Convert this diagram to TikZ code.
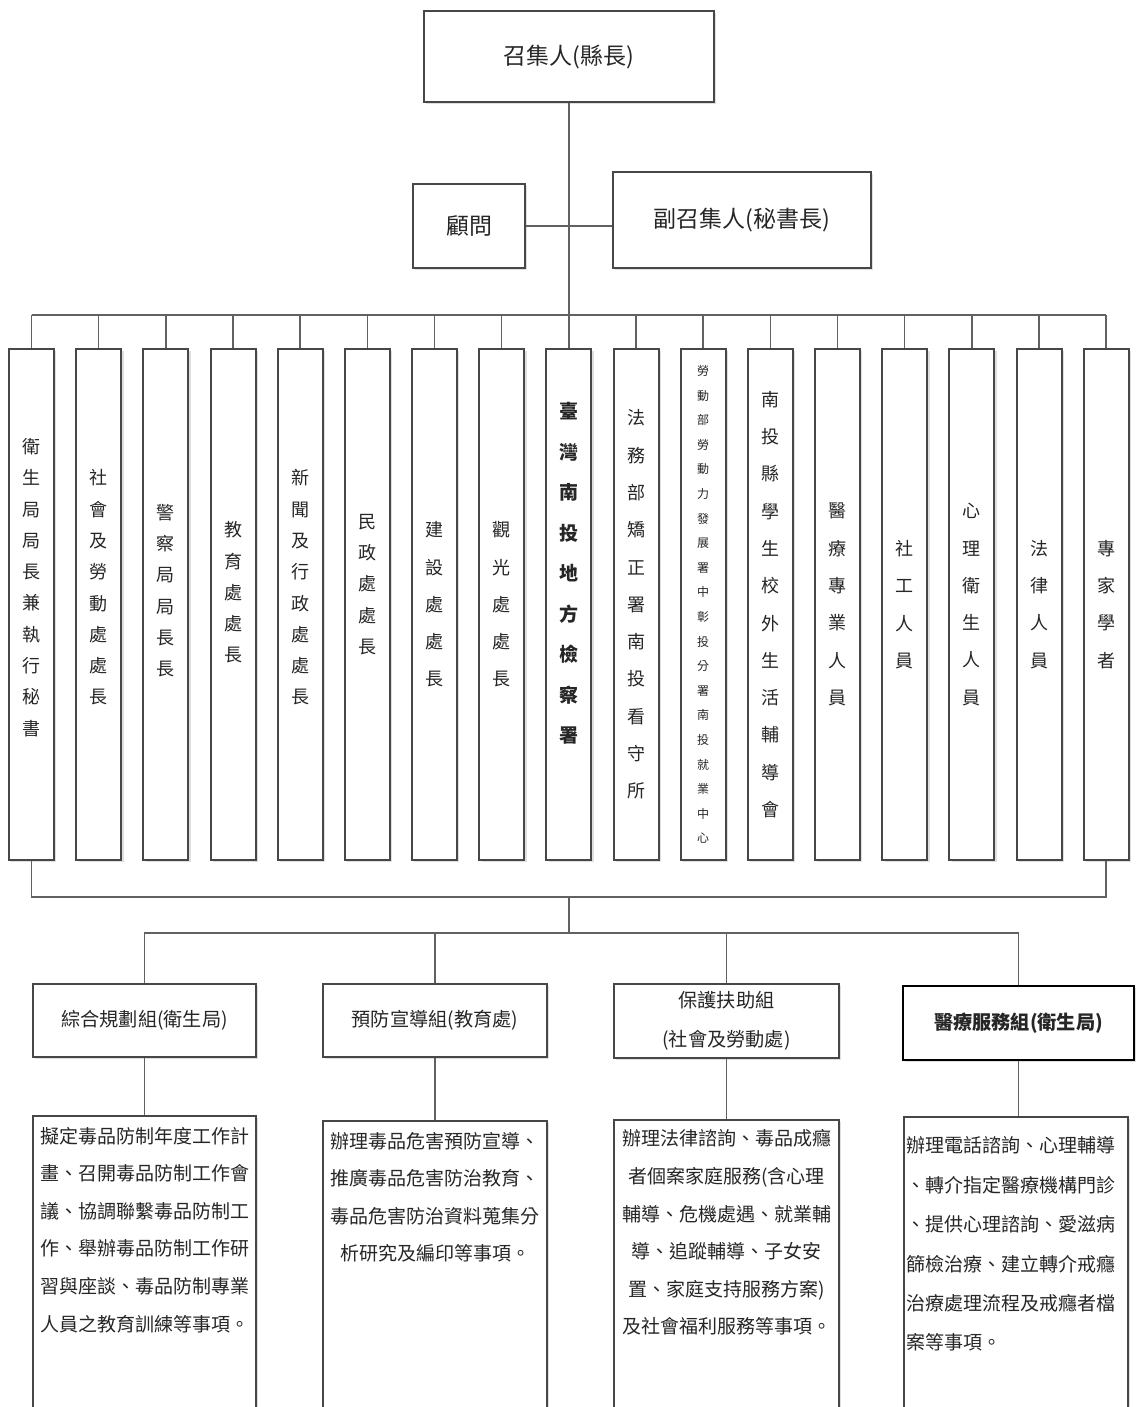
\documentclass[tikz,border=0pt]{standalone}
\usepackage{fontspec}
\setmainfont{Noto Sans CJK TC}
\usetikzlibrary{positioning,shadows}
\XeTeXlinebreaklocale "zh"
\XeTeXlinebreakskip=0pt plus 1pt
\colorlet{framegray}{black!72}
\colorlet{linkgray}{black!62}
\colorlet{inkgray}{black!85}
\tikzset{
    boxsty/.style={draw=framegray, line width=1pt, fill=white, rectangle, inner sep=0pt, text=inkgray,
                   drop shadow={shadow xshift=1.2pt, shadow yshift=-1.2pt, opacity=0.25}},
    headsty/.style={boxsty, font=\fontsize{11.5}{14}\selectfont},
    colsty/.style={boxsty, minimum width=22.5pt, minimum height=255.5pt},
    vtxtsty/.style={text width=12pt, align=center, inner sep=0pt, text=inkgray},
    vasty/.style={vtxtsty, font=\fontsize{9}{15.65}\selectfont},
    vbsty/.style={vtxtsty, font=\fontsize{9}{18.65}\selectfont},
    vboldsty/.style={vtxtsty, font=\fontsize{9.5}{20.25}\selectfont\bfseries},
    vtinysty/.style={vtxtsty, text width=8pt, font=\fontsize{6}{12.3}\selectfont},
    grpsty/.style={boxsty, minimum width=111.5pt, minimum height=36.5pt, align=center,
                   font=\fontsize{9.6}{19.5}\selectfont},
    descsty/.style={boxsty, minimum width=111.5pt, minimum height=157pt},
    dtxtsty/.style={inner sep=0pt, text=inkgray, font=\fontsize{9.5}{18.8}\selectfont},
    linksty/.style={draw=linkgray, line width=0.75pt},
}

\begin{document}
\begin{tikzpicture}[x=0.5pt,y=-0.5pt]
  \useasboundingbox (0,0) rectangle (1137,1407);

  % convener, adviser and deputy
  \node[headsty, minimum width=145pt, minimum height=45.5pt] (chief) at (569,56.5) {召集人(縣長)};
  \node[headsty, minimum width=56pt, minimum height=42pt] (adv) at (469,226) {顧問};
  \node[headsty, minimum width=129pt, minimum height=48pt] (vice) at (742,220) {副召集人(秘書長)};

  % members
  \foreach \i in {1,...,17}
    \node[colsty] (c\i) at ({31.5+67.17*(\i-1)},604.5) {};

  \node[vasty] (v1) at ([yshift=8.5pt]c1.center) {衛生局局長兼執行秘書};
  \node[vasty] (v2) at ([yshift=8.5pt]c2.center) {社會及勞動處處長};
  \node[vasty] (v3) at ([yshift=7pt]c3.center) {警察局局長長};
  \node[vasty] (v4) at ([yshift=6pt]c4.center) {教育處處長};
  \node[vasty] (v5) at ([yshift=8.5pt]c5.center) {新聞及行政處處長};
  \node[vasty] (v6) at ([yshift=10pt]c6.center) {民政處處長};
  \node[vbsty] (v7) at (c7.center) {建設處處長};
  \node[vbsty] (v8) at (c8.center) {觀光處處長};
  \node[vboldsty] (v9) at ([yshift=15.5pt]c9.center) {臺灣南投地方檢察署};
  \node[vbsty] (v10) at (c10.center) {法務部矯正署南投看守所};
  \node[vtinysty] (v11) at (c11.center) {勞動部勞動力發展署中彰投分署南投就業中心};
  \node[vbsty] (v12) at (c12.center) {南投縣學生校外生活輔導會};
  \node[vbsty] (v13) at (c13.center) {醫療專業人員};
  \node[vbsty] (v14) at (c14.center) {社工人員};
  \node[vbsty] (v15) at (c15.center) {心理衛生人員};
  \node[vbsty] (v16) at (c16.center) {法律人員};
  \node[vbsty] (v17) at (c17.center) {專家學者};

  % task groups
  \node[grpsty] (g1) at (144.5,1020.5) {綜合規劃組(衛生局)};
  \node[grpsty, minimum width=112pt] (g2) at (435,1020.5) {預防宣導組(教育處)};
  \node[grpsty, minimum width=112.5pt, minimum height=37pt] (g3) at (726.5,1021) {保護扶助組\\(社會及勞動處)};
  \node[grpsty, minimum width=115.5pt, minimum height=37pt, draw=black, line width=1.3pt,
        font=\fontsize{9.6}{12}\selectfont\bfseries] (g4) at (1018.5,1023) {醫療服務組(衛生局)};

  \node[descsty] (d1) at (144.5,1273) {};
  \node[descsty, minimum width=112pt] (d2) at (435,1278) {};
  \node[descsty, minimum width=112.5pt] (d3) at (726.5,1277) {};
  \node[descsty, minimum width=112pt] (d4) at (1016,1274) {};

  \node[dtxtsty, align=center, below=5.75pt of d1.north] (t1)
    {擬定毒品防制年度工作計\\畫、召開毒品防制工作會\\議、協調聯繫毒品防制工\\作、舉辦毒品防制工作研\\習與座談、毒品防制專業\\人員之教育訓練等事項。};
  \node[dtxtsty, align=center, below=5.75pt of d2.north] (t2)
    {辦理毒品危害預防宣導、\\推廣毒品危害防治教育、\\毒品危害防治資料蒐集分\\析研究及編印等事項。};
  \node[dtxtsty, align=center, below=5.25pt of d3.north] (t3)
    {辦理法律諮詢、毒品成癮\\者個案家庭服務(含心理\\輔導、危機處遇、就業輔\\導、追蹤輔導、子女安\\置、家庭支持服務方案)\\及社會福利服務等事項。};
  \node[dtxtsty, align=left, font=\fontsize{9.5}{19.7}\selectfont, below right=10.25pt and 1.5pt of d4.north west] (t4)
    {辦理電話諮詢、心理輔導\\、轉介指定醫療機構門診\\、提供心理諮詢、愛滋病\\篩檢治療、建立轉介戒癮\\治療處理流程及戒癮者檔\\案等事項。};

  % connectors
  \coordinate (topbus) at (569,315);
  \coordinate (botbus) at (569,897);
  \coordinate (grpbus) at (569,933);
  \draw[linksty] (chief.south) -- (chief.south |- topbus);
  \draw[linksty] (adv.east) -- (adv.east -| vice.west);
  \draw[linksty] (c1.north |- topbus) -- (c17.north |- topbus);
  \foreach \i in {1,...,17}
    \draw[linksty] (c\i.north) -- (c\i.north |- topbus);
  \draw[linksty] (c1.south) |- (botbus) -| (c17.south);
  \draw[linksty] (botbus) -- (grpbus);
  \draw[linksty] (g1.north) |- (grpbus) -| (g4.north);
  \draw[linksty] (g2.north) -- (g2.north |- grpbus);
  \draw[linksty] (g3.north) -- (g3.north |- grpbus);
  \foreach \i in {1,...,4}
    \draw[linksty] (g\i.south) -- (g\i.south |- d\i.north);
\end{tikzpicture}
\end{document}
